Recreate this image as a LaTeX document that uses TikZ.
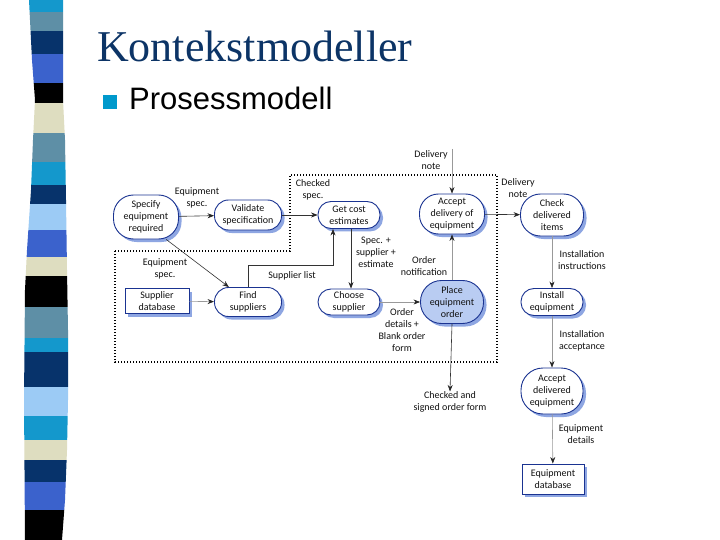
\documentclass[tikz,border=0pt]{standalone}
\usepackage{fontspec}
\setmainfont{Carlito}
\newfontfamily\titlefont{Liberation Serif}
\newfontfamily\headfont{Liberation Sans}
\usetikzlibrary{positioning, arrows.meta, shadows}

\definecolor{titleblue}{HTML}{0C3466}
\definecolor{bulletcyan}{HTML}{0099CC}
\definecolor{procline}{HTML}{1A3391}
\definecolor{procshadow}{HTML}{8EA6E2}
\definecolor{procfill}{HTML}{B9CCF2}
\definecolor{txt}{HTML}{111111}
\definecolor{stcyan}{HTML}{1498CC}
\definecolor{ststeel}{HTML}{5E8FA6}
\definecolor{stnavy}{HTML}{07336B}
\definecolor{stroyal}{HTML}{3B62CC}
\definecolor{stbeige}{HTML}{DEDDC0}
\definecolor{stlight}{HTML}{9CCBF5}

\newcommand\diagfont{\fontsize{10}{12}\selectfont}

\begin{document}
\begin{tikzpicture}[
  x=1pt, y=-1pt,
  >={Stealth[length=6.5pt, width=5pt, color=black!85]},
  proc/.style={rectangle, rounded corners=#1, draw=procline, line width=0.9pt,
    fill=white, align=center, font=\diagfont, text=txt, inner sep=1pt,
    drop shadow={shadow xshift=3pt, shadow yshift=-3pt, fill=procshadow, opacity=1}},
  proc/.default={13pt},
  store/.style={rectangle, draw=procline, line width=0.9pt, fill=white,
    align=center, font=\diagfont, text=txt, inner sep=1pt,
    drop shadow={shadow xshift=3pt, shadow yshift=-3pt, fill=procshadow, opacity=1}},
  lbl/.style={align=center, font=\diagfont, text=txt, inner sep=0pt},
  flow/.style={->, line width=0.6pt, draw=black!80},
  flowg/.style={->, line width=0.6pt, draw=black!40},
  bound/.style={line width=1.1pt, dash pattern=on 1.4pt off 1.6pt},
]

\useasboundingbox[fill=white] (0,0) rectangle (720,540);

% --- Striped band ---
\begin{scope}
\clip (29,0) -- (32,60) -- (35,100) -- (33,140) -- (31,190) -- (27,250)
  -- (25,290) -- (24,400) -- (25,540) -- (62,540) -- (65,500) -- (67,450)
  -- (68,400) -- (68,330) -- (67,270) -- (66,200) -- (65,140) -- (63,100)
  -- (63,0) -- cycle;
\fill[stcyan]  (0,0) rectangle (80,12);
\fill[ststeel] (0,12) rectangle (80,31);
\fill[stnavy]  (0,31) rectangle (80,54);
\fill[stroyal] (0,54) rectangle (80,83);
\fill[black]   (0,83) rectangle (80,103);
\fill[stbeige] (0,103) rectangle (80,133);
\fill[ststeel] (0,133) rectangle (80,162);
\fill[stcyan]  (0,162) rectangle (80,185);
\fill[stnavy]  (0,185) rectangle (80,204);
\fill[stlight] (0,204) rectangle (80,230);
\fill[stroyal] (0,230) rectangle (80,257);
\fill[stbeige] (0,257) rectangle (80,276);
\fill[black]   (0,276) rectangle (80,307);
\fill[ststeel] (0,307) rectangle (80,338);
\fill[stcyan]  (0,338) rectangle (80,352);
\fill[stnavy]  (0,352) rectangle (80,387);
\fill[stlight] (0,387) rectangle (80,416);
\fill[stcyan]  (0,416) rectangle (80,440);
\fill[stbeige] (0,440) rectangle (80,460);
\fill[stnavy]  (0,460) rectangle (80,482);
\fill[stroyal] (0,482) rectangle (80,510);
\fill[black]   (0,510) rectangle (80,540);
\end{scope}

% --- Heading ---
\node[anchor=base west, inner sep=0pt, text=titleblue,
  font=\titlefont\fontsize{44}{44}\selectfont] (title) at (97,62) {Kontekstmodeller};
\node[fill=bulletcyan, minimum size=14pt, inner sep=0pt] (bullet) at (110,102) {};
\node[anchor=base west, inner sep=0pt,
  font=\headfont\fontsize{31}{31}\selectfont] (sub) at (129,110) {Prosessmodell};

% --- Boundary ---
\draw[bound] (115,251) -- (290,251) -- (290,175) -- (497,175)
  -- (497,362) -- (115,362) -- cycle;

% --- Processes ---
\node[proc=20pt, minimum width=65pt, minimum height=44pt] (spec) at (146,217)
  {Specify\\equipment\\required};
\node[proc=14pt, minimum width=67pt, minimum height=30pt] (valid) at (248,215)
  {Validate\\specification};
\node[proc=13pt, minimum width=62pt, minimum height=27pt] (cost) at (349,215)
  {Get cost\\estimates};
\node[proc=19pt, minimum width=65pt, minimum height=40pt] (accdel) at (452,214)
  {Accept\\delivery of\\equipment};
\node[proc=20pt, minimum width=63pt, minimum height=42pt] (check) at (552,215)
  {Check\\delivered\\items};
\node[store, minimum width=64pt, minimum height=25pt] (supdb) at (157,301)
  {Supplier\\database};
\node[proc=14pt, minimum width=67pt, minimum height=29pt] (find) at (248,302)
  {Find\\suppliers};
\node[proc=13pt, minimum width=62pt, minimum height=26pt] (choose) at (349,302)
  {Choose\\supplier};
\node[proc=21pt, minimum width=63pt, minimum height=43pt, fill=procfill] (place)
  at (452,302) {Place\\equipment\\order};
\node[proc=13pt, minimum width=62pt, minimum height=27pt] (install) at (552,302)
  {Install\\equipment};
\node[proc=22pt, minimum width=62pt, minimum height=46pt] (accequip) at (552,391)
  {Accept\\delivered\\equipment};
\node[store, minimum width=62pt, minimum height=30pt] (eqdb) at (553,479)
  {Equipment\\database};

% --- Labels ---
\node[lbl] (lEqSpecA) at (197,198) {Equipment\\spec.};
\node[lbl] (lEqSpecB) at (165,269) {Equipment\\spec.};
\node[lbl] (lChecked) at (313,190) {Checked\\spec.};
\node[lbl] (lDelivA) at (431,160) {Delivery\\note};
\node[lbl] (lDelivB) at (518,188) {Delivery\\note};
\node[lbl] (lSpecSup) at (376,252) {Spec. +\\supplier +\\estimate};
\node[lbl] (lSupList) at (292,276) {Supplier list};
\node[lbl] (lOrderNot) at (424,266) {Order\\notification};
\node[lbl] (lOrderDet) at (402,330) {Order\\details +\\Blank order\\form};
\node[lbl] (lSigned) at (450,402) {Checked and\\signed order form};
\node[lbl] (lInstInstr) at (582,260) {Installation\\instructions};
\node[lbl] (lInstAcc) at (582,341) {Installation\\acceptance};
\node[lbl] (lEqDet) at (581,434) {Equipment\\details};

% --- Flows ---
\coordinate (dntop) at (452,149);
\coordinate (slbend) at (333,265);
\draw[flow] (spec) -- (valid);
\draw[flow] (valid) -- (cost);
\draw[flow] (spec.-48) -- (find.142);
\draw[flowg] (supdb) -- (find);
\draw[flow] (find.north) |- (slbend) -- (slbend |- cost.south);
\draw[flow] (cost.south -| 351,0) -- (choose.north -| 351,0);
\draw[flowg] (choose) -- (place);
\draw[flowg] (place) -- (accdel);
\draw[flowg] (dntop) -- (accdel.north);
\draw[flow] (accdel) -- (check);
\draw[flow] (place.south) -- (lSigned.north);
\draw[flowg] (check) -- (install);
\draw[flowg] (install) -- (accequip);
\draw[flowg] (accequip) -- (eqdb);

\end{tikzpicture}
\end{document}
